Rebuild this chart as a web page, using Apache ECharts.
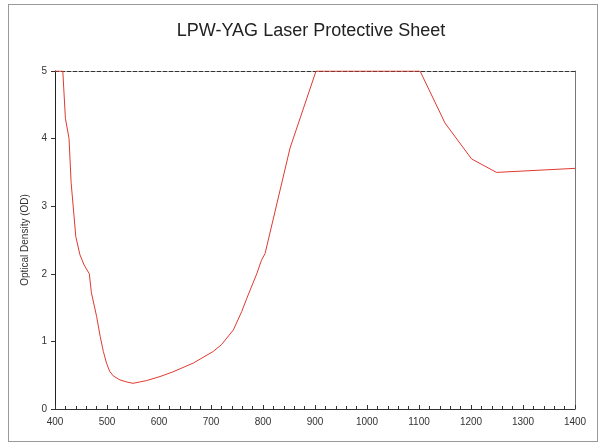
<!DOCTYPE html>
<html>
<head>
<meta charset="utf-8">
<script src="https://cdn.jsdelivr.net/npm/echarts@6/dist/echarts.min.js"></script>
<style>
  html, body { margin: 0; padding: 0; background: #fff; }
  #frame { position: absolute; left: 8px; top: 4px; width: 590px; height: 438px; border: 1px solid #999; box-sizing: border-box; }
  #chart { position: absolute; left: 0; top: 0; width: 600px; height: 444px; }
</style>
</head>
<body>
<div id="frame"></div>
<div id="chart"></div>
<script>
// wavelength (nm) and optical density
const wavelength = [400, 415, 420, 427, 431, 440, 448, 456, 466, 470, 480, 487, 493, 499, 505, 512, 525, 538, 550, 563, 576, 602, 627, 666, 704, 720, 743, 759, 769, 788, 797, 804, 852, 902, 1102, 1150, 1201, 1249, 1400];
const opticalDensity = [5, 5, 4.3, 4.0, 3.35, 2.55, 2.28, 2.13, 2.0, 1.72, 1.37, 1.07, 0.85, 0.68, 0.56, 0.49, 0.43, 0.40, 0.38, 0.40, 0.42, 0.48, 0.55, 0.68, 0.85, 0.95, 1.17, 1.44, 1.64, 2.0, 2.2, 2.3, 3.86, 5, 5, 4.23, 3.7, 3.5, 3.56];

const xTicks = [400, 1400, 100];
const yTicks = [0, 5, 1];

const chart = echarts.init(document.getElementById('chart'));

chart.setOption({
  animation: false,
  title: {
    text: 'LPW-YAG Laser Protective Sheet',
    left: 306,
    top: 17,
    textAlign: 'center',
    textStyle: { fontFamily: 'Liberation Sans', fontSize: 18, fontWeight: 'normal', color: '#222' }
  },
  grid: { left: 55, right: 25, top: 71, bottom: 35 },
  xAxis: [
    {
      type: 'value',
      min: xTicks[0], max: xTicks[1], interval: xTicks[2],
      axisLine: { onZero: false, lineStyle: { color: '#333', width: 1 } },
      axisTick: { inside: true, length: 4, lineStyle: { color: '#333' } },
      minorTick: { show: true, splitNumber: 5, length: 3, lineStyle: { color: '#333' } },
      axisLabel: { fontFamily: 'Liberation Sans', fontSize: 10, color: '#333', margin: 8, formatter: v => String(v) },
      splitLine: { show: false }
    },
    {
      type: 'value', position: 'top',
      min: xTicks[0], max: xTicks[1],
      axisLine: { show: true, onZero: false, lineStyle: { color: '#333', type: [4, 2], width: 1 } },
      axisTick: { show: false }, axisLabel: { show: false }, splitLine: { show: false }
    }
  ],
  yAxis: [
    {
      type: 'value',
      min: yTicks[0], max: yTicks[1], interval: yTicks[2],
      name: 'Optical Density (OD)',
      nameLocation: 'middle',
      nameGap: 20,
      nameTextStyle: { fontFamily: 'Liberation Sans', fontSize: 10, color: '#333' },
      axisLine: { show: true, onZero: false, lineStyle: { color: '#222', width: 1 } },
      axisTick: { show: true, length: 4, lineStyle: { color: '#333' } },
      axisLabel: { fontFamily: 'Liberation Sans', fontSize: 10, color: '#333', margin: 8 },
      splitLine: { show: false }
    },
    {
      type: 'value', position: 'right',
      min: yTicks[0], max: yTicks[1],
      axisLine: { show: true, onZero: false, lineStyle: { color: '#777', width: 1 } },
      axisTick: { show: false }, axisLabel: { show: false }, splitLine: { show: false }
    }
  ],
  series: [
    {
      type: 'line',
      data: wavelength.map((w, i) => [w, opticalDensity[i]]),
      showSymbol: false,
      smooth: false,
      lineStyle: { color: '#e03a30', width: 1 },
      z: 3
    }
  ]
});
</script>
</body>
</html>
